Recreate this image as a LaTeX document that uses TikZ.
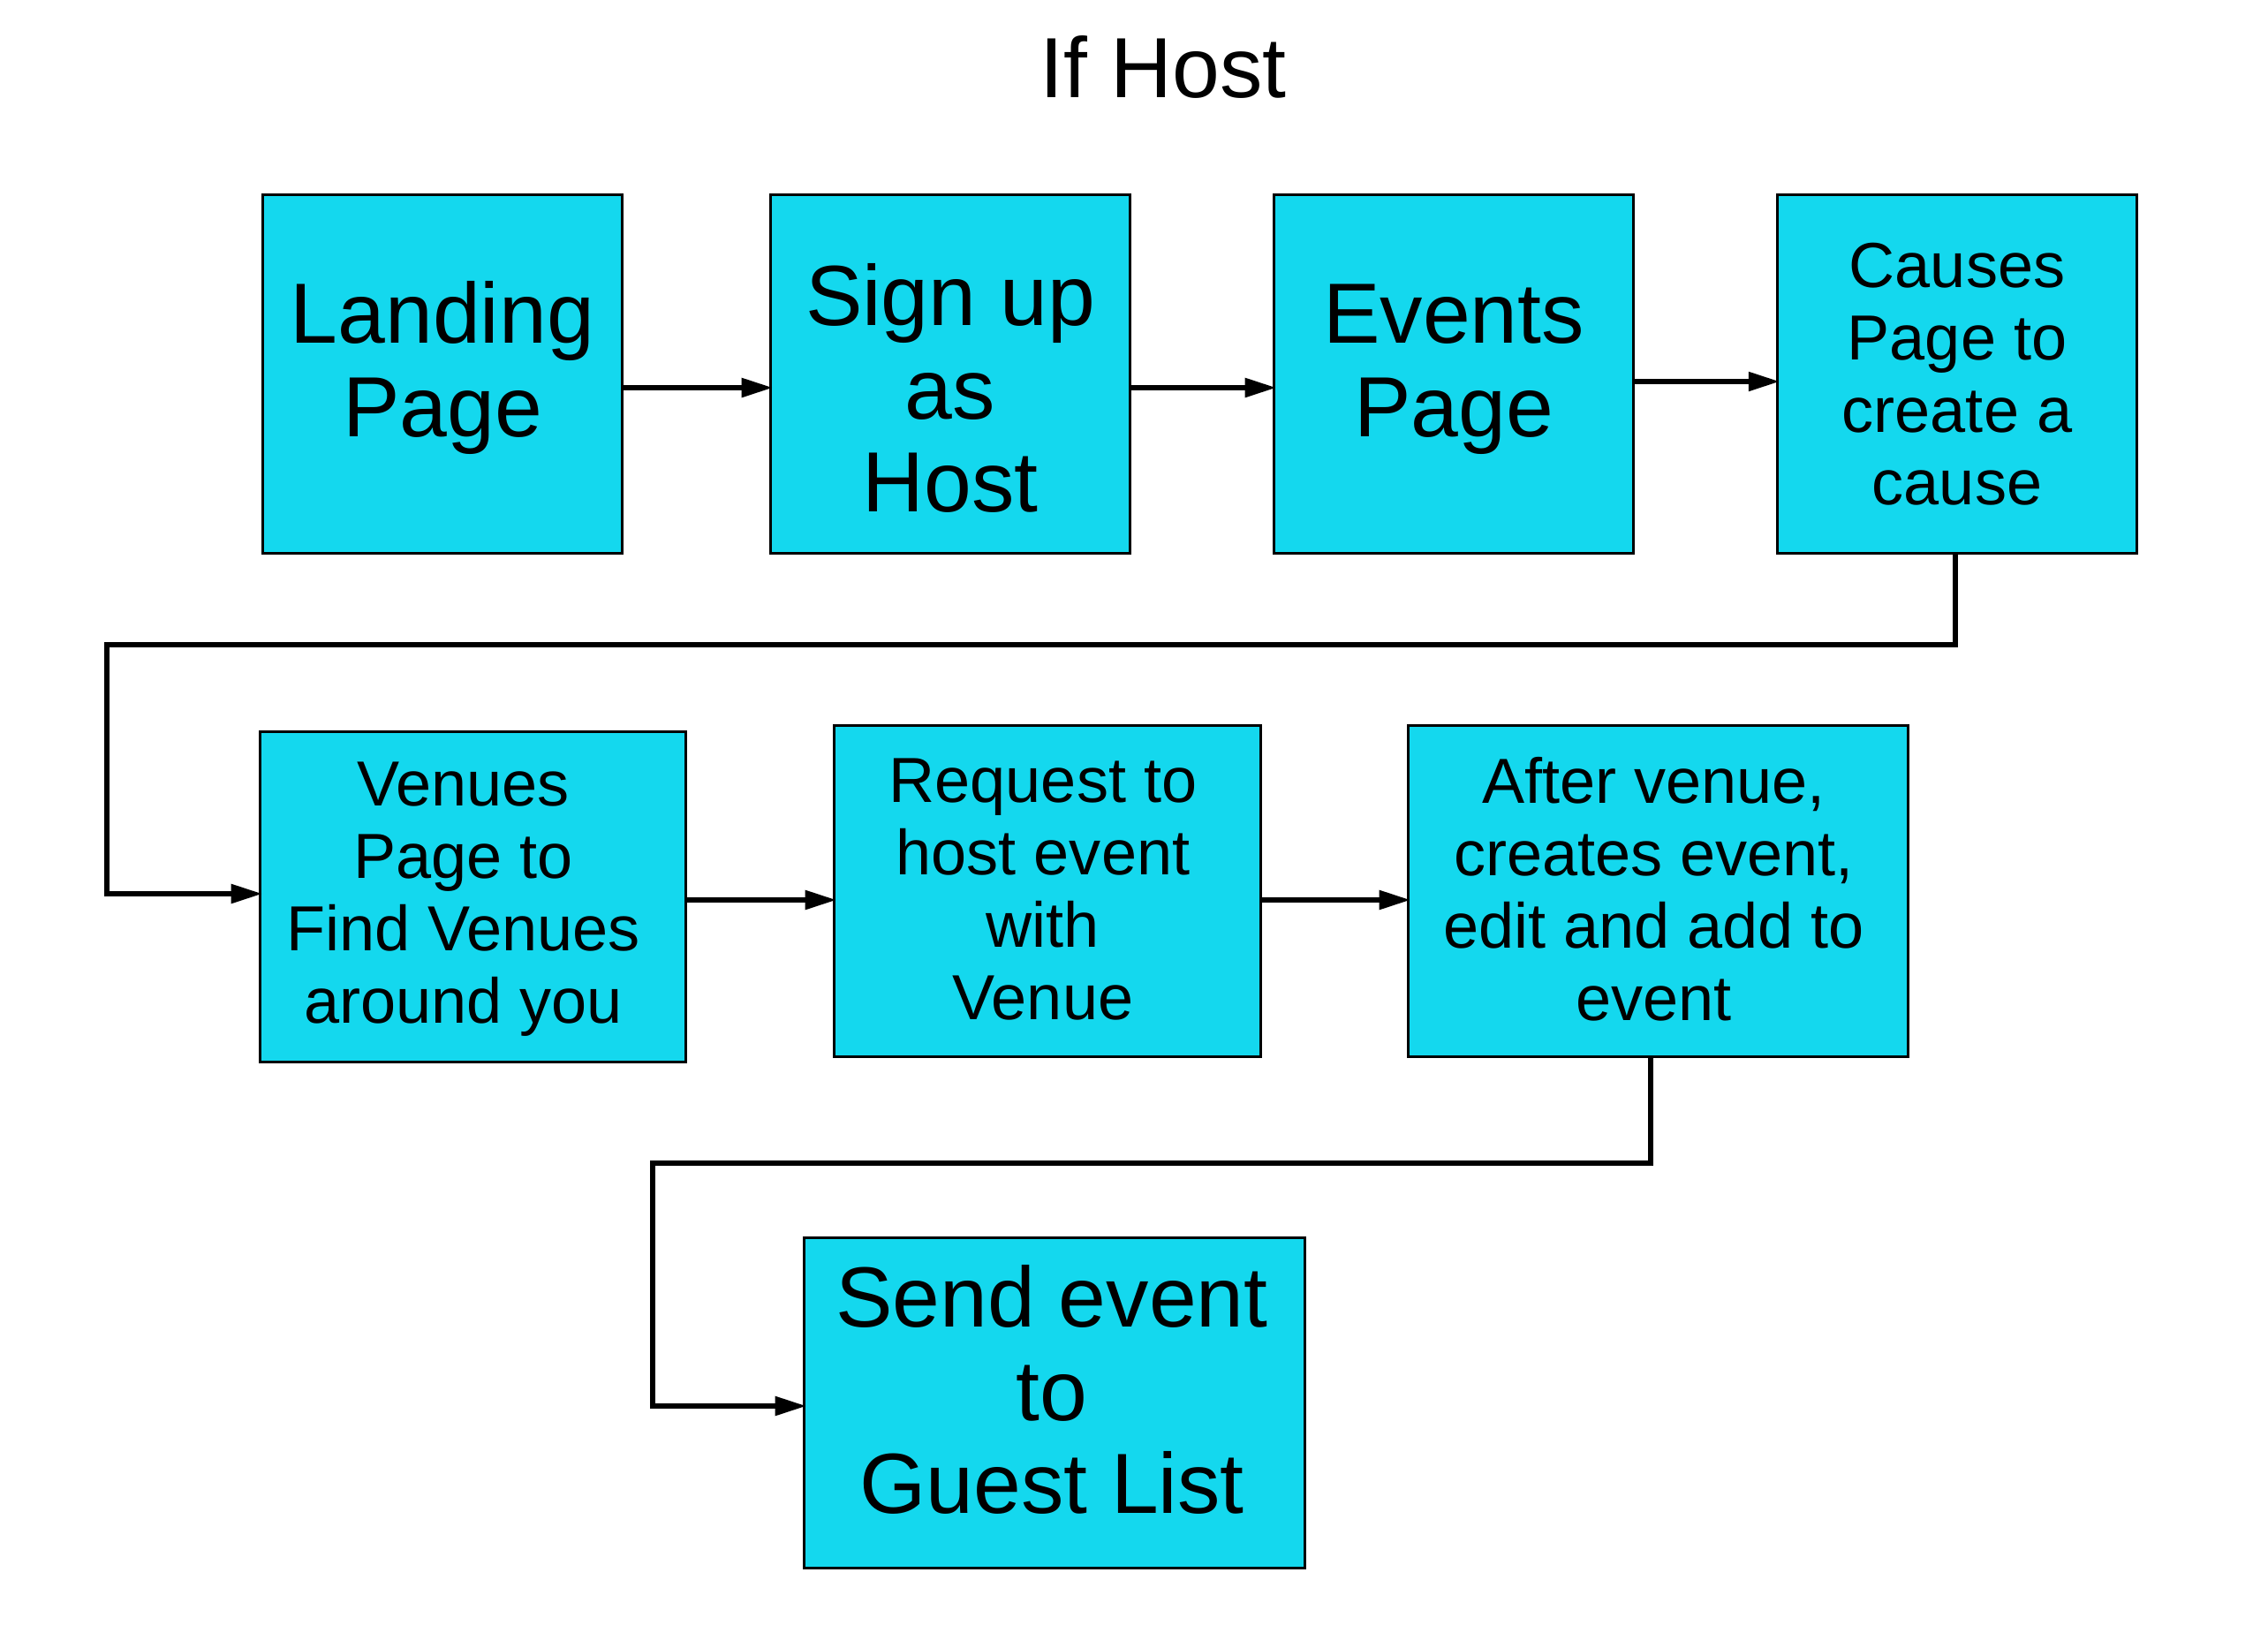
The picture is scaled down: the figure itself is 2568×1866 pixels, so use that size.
\documentclass[tikz,border=0pt]{standalone}
\usepackage{fontspec}
\setmainfont{Liberation Sans}
\usetikzlibrary{arrows.meta}
\definecolor{boxcyan}{RGB}{20,216,238}
\begin{document}
\begin{tikzpicture}[x=0.01cm,y=-0.01cm,
  box/.style={draw=black,fill=boxcyan,line width=0.85pt,align=center,inner sep=0pt},
  bigtext/.style={font=\fontsize{27.5}{30}\selectfont},
  smalltext/.style={font=\fontsize{20.5}{23.3}\selectfont},
  txt/.style={align=center,inner sep=0pt},
  conn/.style={line width=1.45pt,-{Triangle[length=10pt,width=6pt]},shorten >=-1pt}]
\useasboundingbox[fill=white] (0,0) rectangle (2568,1866);
\node[font=\fontsize{27.5}{30}\selectfont] (title) at (1317,76) {If Host};
\node[box,minimum width=4.06cm,minimum height=4.05cm,
  label={[txt,bigtext,yshift=0.07cm]center:{Landing\\Page}}] (land) at (501,423.5) {};
\node[box,minimum width=4.06cm,minimum height=4.05cm,
  label={[txt,bigtext,yshift=-0.16cm]center:{Sign up\\as\\Host}}] (sign) at (1076,423.5) {};
\node[box,minimum width=4.06cm,minimum height=4.05cm,
  label={[txt,bigtext,yshift=0.05cm]center:{Events\\Page}}] (events) at (1646,423.5) {};
\node[box,minimum width=4.06cm,minimum height=4.05cm,
  label={[txt,smalltext]center:{Causes\\Page to\\create a\\cause}}] (causes) at (2216,423.5) {};
\node[box,minimum width=4.81cm,minimum height=3.73cm,
  label={[txt,smalltext,xshift=-0.11cm,yshift=-0.03cm]center:{Venues\\Page to\\Find Venues\\around you}}] (venues) at (535.5,1015.5) {};
\node[box,minimum width=4.82cm,minimum height=3.74cm,
  label={[txt,smalltext,xshift=-0.05cm,yshift=0.02cm]center:{Request to\\host event\\with\\Venue}}] (request) at (1186,1009) {};
\node[box,minimum width=5.65cm,minimum height=3.74cm,
  label={[txt,smalltext,xshift=-0.05cm,yshift=0.02cm]center:{After venue,\\creates event,\\edit and add to\\event}}] (after) at (1877.5,1009) {};
\node[box,minimum width=5.66cm,minimum height=3.73cm,
  label={[txt,bigtext,xshift=-0.03cm,yshift=0.15cm]center:{Send event\\to\\Guest List}}] (send) at (1194,1588.5) {};
\coordinate (c1) at (2214,730);
\coordinate (c2) at (121,730);
\coordinate (c3) at (1869,1317);
\coordinate (c4) at (739,1317);
\draw[conn] (land.east |- 0,439) -- (sign.west |- 0,439);
\draw[conn] (sign.east |- 0,439) -- (events.west |- 0,439);
\draw[conn] (events.east |- 0,432) -- (causes.west |- 0,432);
\draw[conn] (causes.south -| c1) -- (c1) -- (c2) -- (c2 |- 0,1012) -- (venues.west |- 0,1012);
\draw[conn] (venues.east |- 0,1019) -- (request.west |- 0,1019);
\draw[conn] (request.east |- 0,1019) -- (after.west |- 0,1019);
\draw[conn] (after.south -| c3) -- (c3) -- (c4) -- (c4 |- 0,1592) -- (send.west |- 0,1592);
\end{tikzpicture}
\end{document}
